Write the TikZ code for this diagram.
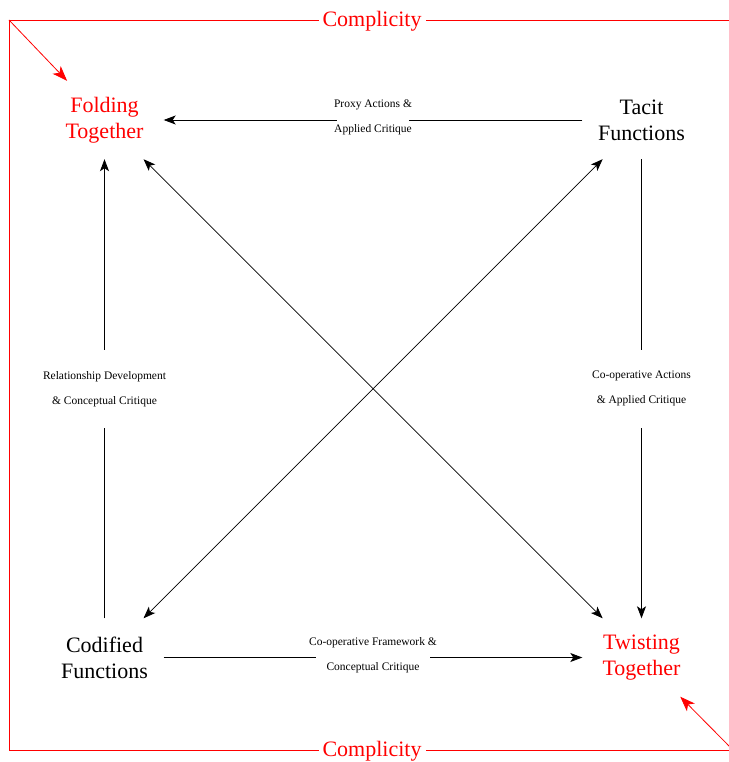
\documentclass[tikz,border=0pt]{standalone}
\usepackage{fontspec}
\setmainfont{Liberation Serif}
\usetikzlibrary{arrows.meta}
\begin{document}
\begin{tikzpicture}[x=1pt,y=-1pt,
  concept/.style={minimum width=118pt, minimum height=78pt, inner sep=0pt,
    align=center, font=\fontsize{22}{26}\selectfont},
  flow/.style={draw=black, line width=0.8pt,
    -{Stealth[length=12pt,width=9pt,inset=3pt]}},
  twoway/.style={draw=black, line width=0.8pt,
    {Stealth[length=12pt,width=9pt,inset=3pt]}-{Stealth[length=12pt,width=9pt,inset=3pt]}},
  edgetag/.style={fill=white, align=center, font=\fontsize{11.5}{25}\selectfont},
  frameline/.style={draw=red, line width=0.8pt},
  pullarrow/.style={draw=red, line width=0.8pt,
    -{Stealth[length=15pt,width=11pt,inset=4pt]}},
  complicity/.style={fill=white, text=red, inner xsep=4pt,
    font=\fontsize{22}{26}\selectfont}
]
\useasboundingbox (0,0) rectangle (728,762);

% outer complicity frame
\coordinate (FrameTL) at (9,20);
\coordinate (FrameBR) at (733,750);
\draw[frameline] (FrameTL) rectangle (FrameBR);
\node[complicity] (TopTag) at (372,21.5) {Complicity};
\node[complicity] (BottomTag) at (372,751.5) {Complicity};

% the four functions
\node[concept, text=red] (Folding) at (104.5,120) {Folding\\Together};
\node[concept] (Tacit) at (641.5,120) {Tacit\\Functions};
\node[concept] (Codified) at (104.5,657.5) {Codified\\Functions};
\node[concept, text=red] (Twisting) at (641.5,657.5) {Twisting\\Together};

% connectors between the functions
\draw[flow] (Tacit) -- node[edgetag, inner xsep=-3pt, yshift=3pt]
  {Proxy Actions \&\\Applied Critique} (Folding);
\draw[flow] (Codified) -- node[edgetag, inner xsep=-7pt, yshift=2pt]
  {Co-operative Framework \&\\Conceptual Critique} (Twisting);
\draw[flow] (Codified) -- node[edgetag, inner ysep=0pt, minimum height=78pt]
  {Relationship Development\\\& Conceptual Critique} (Folding);
\draw[flow] (Tacit) -- node[edgetag, inner ysep=0pt, minimum height=78pt]
  {Co-operative Actions\\\& Applied Critique} (Twisting);
\draw[twoway] (Folding) -- (Twisting);
\draw[twoway] (Codified) -- (Tacit);

% complicity pulling on the red corners
\draw[pullarrow] (FrameTL) -- (Folding);
\draw[pullarrow] (FrameBR) -- (Twisting);
\end{tikzpicture}
\end{document}
